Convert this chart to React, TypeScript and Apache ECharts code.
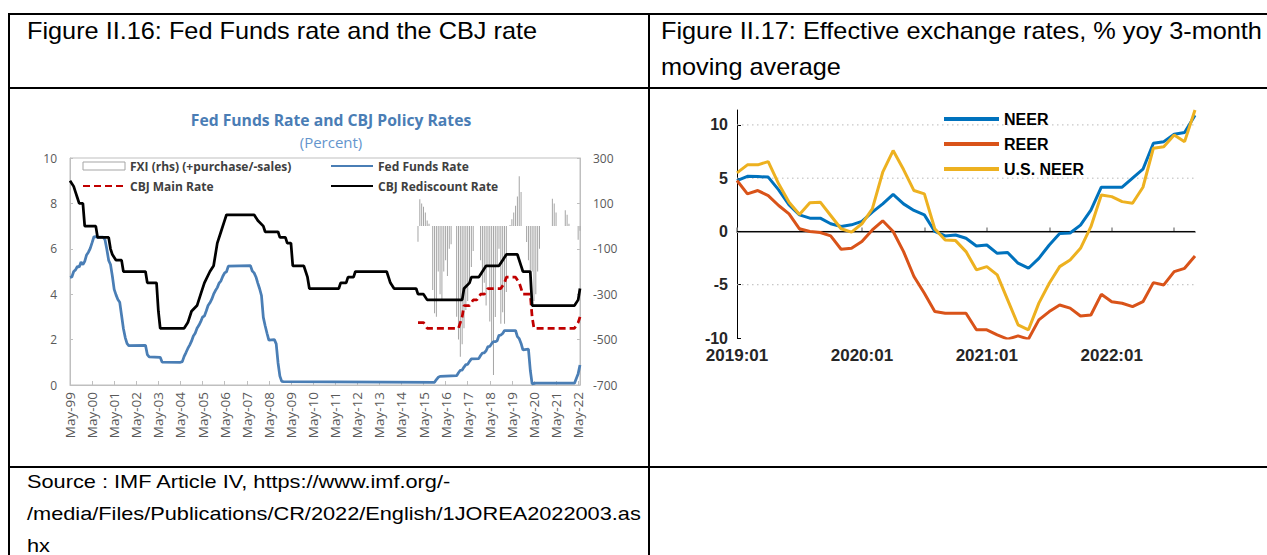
import React, { useEffect, useRef } from "react";
import * as echarts from "echarts";

// ---------------- Table texts ----------------
const headerLeft = "Figure II.16: Fed Funds rate and the CBJ rate";
const headerRight1 = "Figure II.17: Effective exchange rates, % yoy 3-month";
const headerRight2 = "moving average";
const sourceLines = [
  "Source : IMF Article IV, https://www.imf.org/-",
  "/media/Files/Publications/CR/2022/English/1JOREA2022003.as",
  "hx",
];

// ---------------- Figure II.16 (x = months since May-1999) ----------------
const fig16Title = "Fed Funds Rate and CBJ Policy Rates";
const fig16Subtitle = "(Percent)";
const fig16XTickLabels = [
  "May-99", "May-00", "May-01", "May-02", "May-03", "May-04", "May-05", "May-06",
  "May-07", "May-08", "May-09", "May-10", "May-11", "May-12", "May-13", "May-14",
  "May-15", "May-16", "May-17", "May-18", "May-19", "May-20", "May-21", "May-22",
];
const fig16RateTicks = [0, 2, 4, 6, 8, 10];
const fig16FxiTicks = [-700, -500, -300, -100, 100, 300];

const fedFundsRate = [
  [0, 4.74], [1, 4.76], [2, 5.0], [3, 5.07], [4, 5.22], [5, 5.2], [6, 5.42], [7, 5.3],
  [8, 5.45], [9, 5.73], [10, 5.85], [11, 6.02], [12, 6.27], [13, 6.53], [14, 6.54], [15, 6.5],
  [16, 6.52], [17, 6.51], [18, 6.51], [19, 6.4], [20, 5.98], [21, 5.49], [22, 5.31], [23, 4.8],
  [24, 4.21], [25, 3.97], [26, 3.77], [27, 3.65], [28, 3.07], [29, 2.49], [30, 2.09], [31, 1.82],
  [32, 1.73], [41, 1.75], [42, 1.34], [43, 1.24], [49, 1.22], [50, 1.01], [60, 1.0], [61, 1.03],
  [62, 1.26], [63, 1.43], [64, 1.61], [65, 1.76], [66, 1.93], [67, 2.16], [68, 2.28], [69, 2.5],
  [70, 2.63], [71, 2.79], [72, 3.0], [73, 3.04], [74, 3.26], [75, 3.5], [76, 3.62], [77, 3.78],
  [78, 4.0], [79, 4.16], [80, 4.29], [81, 4.49], [82, 4.59], [83, 4.79], [84, 4.94], [85, 4.99],
  [86, 5.24], [98, 5.26], [99, 5.02], [100, 4.94], [101, 4.76], [102, 4.49], [103, 4.24],
  [104, 3.94], [105, 2.98], [106, 2.61], [107, 2.28], [108, 1.98], [111, 2.0], [112, 1.81],
  [113, 0.97], [114, 0.39], [115, 0.16], [116, 0.15], [198, 0.12], [199, 0.24], [200, 0.34],
  [201, 0.38], [210, 0.41], [211, 0.54], [212, 0.65], [213, 0.66], [214, 0.79], [215, 0.9],
  [216, 0.91], [217, 1.04], [218, 1.15], [222, 1.16], [223, 1.3], [224, 1.41], [225, 1.42],
  [226, 1.51], [227, 1.69], [228, 1.7], [229, 1.82], [230, 1.91], [231, 1.91], [232, 1.95],
  [233, 2.19], [234, 2.2], [235, 2.27], [236, 2.4], [242, 2.4], [243, 2.13], [244, 2.04],
  [245, 1.83], [246, 1.55], [249, 1.58], [250, 0.65], [251, 0.05], [253, 0.08], [274, 0.08],
  [276, 0.5], [277, 0.88],
];

const cbjRediscountRate = [
  [0, 9.0], [2, 8.75], [3, 8.5], [4, 8.25], [5, 8.0], [7, 8.0], [8, 7.0], [14, 7.0],
  [15, 6.5], [21, 6.5], [22, 6.0], [23, 5.75], [25, 5.5], [28, 5.5], [29, 5.0], [41, 5.0],
  [42, 4.5], [47, 4.5], [48, 3.25], [49, 2.5], [62, 2.5], [64, 2.75], [66, 3.25], [69, 3.5],
  [71, 4.0], [73, 4.5], [76, 5.0], [78, 5.25], [80, 6.25], [82, 6.75], [84, 7.25], [85, 7.5],
  [100, 7.5], [102, 7.25], [105, 7.0], [106, 6.75], [113, 6.75], [114, 6.5], [117, 6.5],
  [118, 6.25], [120, 6.25], [121, 5.25], [127, 5.25], [128, 5.0], [129, 4.75], [130, 4.25],
  [146, 4.25], [147, 4.5], [150, 4.5], [151, 4.75], [154, 4.75], [155, 5.0], [172, 5.0],
  [173, 4.75], [174, 4.5], [176, 4.25], [188, 4.25], [189, 4.0], [192, 4.0], [194, 3.75],
  [213, 3.75], [214, 4.25], [217, 4.5], [218, 4.75], [222, 4.75], [224, 5.0], [226, 5.25],
  [233, 5.25], [235, 5.5], [237, 5.75], [243, 5.75], [245, 5.25], [246, 5.0], [250, 5.0],
  [251, 3.5], [274, 3.5], [276, 3.75], [277, 4.25],
];

const cbjMainRate = [
  [189, 2.75], [192, 2.75], [194, 2.5], [211, 2.5], [213, 3.0], [214, 3.5], [217, 3.5],
  [219, 3.75], [221, 3.75], [223, 4.0], [225, 4.0], [227, 4.25], [234, 4.25], [236, 4.5],
  [237, 4.75], [242, 4.75], [244, 4.5], [246, 4.0], [250, 4.0], [251, 3.0], [252, 2.5],
  [274, 2.5], [276, 2.75], [277, 3.0],
];

const fxi = [
  [189, -69], [190, 118], [191, 100], [192, 85], [193, 60], [194, 25], [195, 10],
  [197, -281], [198, -384], [199, -399], [200, -200], [201, -300], [202, -330], [203, -200],
  [204, -150], [205, -220], [206, -100], [207, -80], [210, -399], [211, -500], [212, -575],
  [213, -520], [214, -450], [215, -370], [216, -330], [217, -250], [218, -180], [219, -110],
  [223, -150], [224, -300], [225, -250], [226, -350], [227, -180], [228, -420], [229, -520],
  [230, -656], [231, -400], [232, -180], [233, -100], [234, -430], [235, -380], [236, -430],
  [237, -290], [239, 5], [240, 30], [241, 60], [242, 90], [243, 130], [244, 220], [245, 150],
  [248, -70], [249, -150], [250, -280], [251, -200], [252, -330], [253, -300], [254, -200],
  [255, -100], [262, 120], [263, 100], [264, 60], [269, 70], [270, 50], [271, 10],
  [276, -60], [277, -20],
];

// ---------------- Figure II.17 (x = months since 2019:01) ----------------
const fig17XTickLabels = ["2019:01", "2020:01", "2021:01", "2022:01"];
const fig17YTicks = [-10, -5, 0, 5, 10];
const fig17GridLevels = [10, 5, -5];
const neer = [
  4.78, 5.18, 5.15, 5.1, 3.9, 2.5, 1.56, 1.25, 1.25, 0.72, 0.47, 0.62, 0.94, 1.81, 2.59,
  3.47, 2.59, 1.97, 1.56, 0.0, -0.42, -0.33, -0.64, -1.36, -1.27, -2.05, -1.98, -2.98, -3.45,
  -2.52, -1.27, -0.2, -0.15, 0.6, 2.0, 4.15, 4.15, 4.15, 5.0, 5.84, 8.28, 8.43, 9.13, 9.28, 10.9,
];
const reer = [
  4.78, 3.53, 3.84, 3.37, 2.44, 1.65, 0.25, 0.0, -0.1, -0.42, -1.67, -1.58, -0.95, 0.14, 1.0,
  0.0, -1.89, -4.23, -5.8, -7.52, -7.67, -7.67, -7.67, -9.23, -9.23, -9.7, -10.1, -9.8, -10.1,
  -8.3, -7.52, -6.9, -7.2, -7.93, -7.84, -5.9, -6.59, -6.74, -7.06, -6.59, -4.8, -5.02, -3.77,
  -3.46, -2.3,
];
const usNeer = [
  5.5, 6.25, 6.25, 6.56, 4.47, 2.75, 1.59, 2.69, 2.75, 1.5, 0.25, -0.06, 0.72, 2.12, 5.56,
  7.59, 5.81, 3.84, 3.53, 0.25, -0.8, -0.86, -1.89, -3.6, -3.3, -4.08, -6.42, -8.76, -9.23,
  -6.73, -4.86, -3.3, -2.68, -1.58, 0.45, 3.43, 3.27, 2.8, 2.65, 4.15, 7.81, 7.96, 9.06, 8.43, 11.4,
];

const FIG16_FONT = "Open Sans";
const FIG17_FONT = "Liberation Sans";
const DOC_FONT = "Liberation Sans";

function App() {
  const ref = useRef<HTMLDivElement>(null);

  useEffect(() => {
    if (!ref.current) return;
    const chart = echarts.init(ref.current, undefined, { renderer: "svg" });

    const fig16TickMonths = fig16XTickLabels.map((_, i) => i * 12);
    const fig17LabelMonths = fig17XTickLabels.map((_, i) => i * 12);
    const fig17TickMonths = [0, 6, 12, 18, 24, 30, 36, 42];
    const fig17Last = neer.length - 1;
    const toPairs = (arr: number[]) => arr.map((v, i) => [i, v]);
    const lineLegend = (name: string) => ({ name, itemStyle: { opacity: 0 } });

    const line = (x1: number, y1: number, x2: number, y2: number) => ({
      type: "line",
      silent: true,
      shape: { x1, y1, x2, y2 },
      style: { stroke: "#000", lineWidth: 2 },
    });
    const docText = (text: string, x: number, y: number, size: number, sx: number) => ({
      type: "text",
      silent: true,
      x,
      y,
      scaleX: sx,
      style: {
        text,
        fontSize: size,
        fontFamily: DOC_FONT,
        fill: "#000",
        verticalAlign: "middle",
        textVerticalAlign: "middle",
      },
    });

    const graphics: any[] = [
      line(9, 14, 1267, 14),
      line(9, 13, 9, 555),
      line(649, 13, 649, 555),
      line(9, 88, 1267, 88),
      line(9, 467, 1267, 467),
      docText(headerLeft, 27, 30.5, 23, 1.1),
      docText(headerRight1, 661, 30.5, 23, 1.1),
      docText(headerRight2, 661, 66.5, 23, 1.1),
      ...sourceLines.map((t, i) => docText(t, 27, 481.5 + i * 32, 19, 1.145)),
      {
        type: "text",
        silent: true,
        x: 331,
        y: 119.5,
        style: {
          text: fig16Title,
          fontSize: 15.7,
          fontWeight: "bold",
          fontFamily: FIG16_FONT,
          fill: "#4a7db5",
          align: "center",
          textAlign: "center",
          verticalAlign: "middle",
          textVerticalAlign: "middle",
        },
      },
      {
        type: "text",
        silent: true,
        x: 331,
        y: 141.5,
        style: {
          text: fig16Subtitle,
          fontSize: 15,
          fontFamily: FIG16_FONT,
          fill: "#6495cd",
          align: "center",
          textAlign: "center",
          verticalAlign: "middle",
          textVerticalAlign: "middle",
        },
      },
    ];

    const fig16LegendText = {
      fontFamily: FIG16_FONT,
      fontWeight: "bold",
      fontSize: 12,
      color: "#404040",
      lineHeight: 12,
    };

    const option: any = {
      animation: false,
      backgroundColor: "#ffffff",
      graphic: { elements: graphics },
      legend: [
        {
          left: 82,
          top: 160,
          orient: "vertical",
          padding: 0,
          itemWidth: 42,
          itemHeight: 8,
          itemGap: 8,
          selectedMode: false,
          textStyle: fig16LegendText,
          data: [
            {
              name: "FXI (rhs) (+purchase/-sales)",
              icon: "rect",
              itemStyle: { color: "#ffffff", borderColor: "#a5a5a5", borderWidth: 1, opacity: 1 },
            },
            lineLegend("CBJ Main Rate"),
          ],
        },
        {
          left: 330,
          top: 160,
          orient: "vertical",
          padding: 0,
          itemWidth: 42,
          itemHeight: 8,
          itemGap: 8,
          selectedMode: false,
          textStyle: fig16LegendText,
          data: [lineLegend("Fed Funds Rate"), lineLegend("CBJ Rediscount Rate")],
        },
        {
          left: 942,
          top: 111,
          orient: "vertical",
          padding: 0,
          itemWidth: 55,
          itemHeight: 14,
          itemGap: 9,
          selectedMode: false,
          lineStyle: { width: 4 },
          textStyle: {
            fontFamily: FIG17_FONT,
            fontWeight: "bold",
            fontSize: 16,
            color: "#000",
            lineHeight: 14,
          },
          data: [lineLegend("NEER"), lineLegend("REER"), lineLegend("U.S. NEER")],
        },
      ],
      grid: [
        {
          left: 70,
          top: 158,
          width: 510,
          height: 227,
          show: true,
          borderColor: "#bfbfbf",
          borderWidth: 1,
          backgroundColor: "transparent",
          outerBoundsMode: "none",
        },
        { left: 737, top: 110, width: 458, height: 228, outerBoundsMode: "none" },
      ],
      xAxis: [
        {
          type: "value",
          gridIndex: 0,
          min: 0,
          max: 277,
          interval: 12,
          axisLine: { show: true, lineStyle: { color: "#bfbfbf", width: 1 } },
          axisTick: {
            show: true,
            inside: true,
            length: 4,
            customValues: fig16TickMonths,
            lineStyle: { color: "#bfbfbf" },
          },
          axisLabel: {
            customValues: fig16TickMonths,
            rotate: 90,
            margin: 7,
            fontSize: 13.5,
            fontFamily: FIG16_FONT,
            color: "#595959",
            formatter: (v: number) =>
              v % 12 === 0 ? fig16XTickLabels[Math.round(v / 12)] ?? "" : "",
          },
          splitLine: { show: false },
        },
        {
          type: "value",
          gridIndex: 1,
          min: 0,
          max: fig17Last,
          interval: 6,
          axisLine: { show: true, lineStyle: { color: "#8c8c8c", width: 2 } },
          axisTick: {
            show: true,
            inside: true,
            length: 4,
            customValues: fig17TickMonths,
            lineStyle: { color: "#8c8c8c", width: 1.5 },
          },
          axisLabel: {
            customValues: fig17LabelMonths,
            margin: 9,
            fontSize: 17,
            fontWeight: "bold",
            fontFamily: FIG17_FONT,
            color: "#262626",
            formatter: (v: number) =>
              v % 12 === 0 ? fig17XTickLabels[Math.round(v / 12)] ?? "" : "",
          },
          splitLine: { show: false },
        },
      ],
      yAxis: [
        {
          type: "value",
          gridIndex: 0,
          position: "left",
          min: 0,
          max: 10,
          interval: 2,
          axisLine: { show: true, lineStyle: { color: "#bfbfbf" } },
          axisTick: {
            show: true,
            inside: true,
            length: 3,
            customValues: fig16RateTicks,
            lineStyle: { color: "#bfbfbf" },
          },
          axisLabel: {
            customValues: fig16RateTicks,
            margin: 13,
            fontSize: 12,
            fontFamily: FIG16_FONT,
            color: "#595959",
          },
          splitLine: { show: false },
        },
        {
          type: "value",
          gridIndex: 0,
          position: "right",
          min: -700,
          max: 300,
          axisLine: { show: true, lineStyle: { color: "#bfbfbf" } },
          axisTick: {
            show: true,
            inside: true,
            length: 3,
            customValues: fig16FxiTicks,
            lineStyle: { color: "#bfbfbf" },
          },
          axisLabel: {
            customValues: fig16FxiTicks,
            margin: 13,
            fontSize: 12,
            fontFamily: FIG16_FONT,
            color: "#595959",
          },
          splitLine: { show: false },
        },
        {
          type: "value",
          gridIndex: 1,
          min: -10,
          max: 11.4,
          axisLine: { show: true, lineStyle: { color: "#000", width: 1 } },
          axisTick: {
            show: true,
            inside: true,
            length: 4,
            customValues: fig17YTicks,
            lineStyle: { color: "#000" },
          },
          axisLabel: {
            customValues: fig17YTicks,
            margin: 9,
            fontSize: 16,
            fontWeight: "bold",
            fontFamily: FIG17_FONT,
            color: "#262626",
          },
          splitLine: { show: false },
        },
      ],
      series: [
        {
          name: "FXI (rhs) (+purchase/-sales)",
          type: "bar",
          xAxisIndex: 0,
          yAxisIndex: 1,
          data: fxi,
          barWidth: 1,
          itemStyle: { color: "#a5a5a5" },
        },
        {
          name: "Fed Funds Rate",
          type: "line",
          xAxisIndex: 0,
          yAxisIndex: 0,
          data: fedFundsRate,
          symbol: "none",
          color: "#4a7eb5",
          lineStyle: { color: "#4a7eb5", width: 2.75 },
        },
        {
          name: "CBJ Main Rate",
          type: "line",
          xAxisIndex: 0,
          yAxisIndex: 0,
          data: cbjMainRate,
          symbol: "none",
          color: "#c00000",
          lineStyle: { color: "#c00000", width: 2.75, type: [7, 4] },
        },
        {
          name: "CBJ Rediscount Rate",
          type: "line",
          xAxisIndex: 0,
          yAxisIndex: 0,
          data: cbjRediscountRate,
          symbol: "none",
          color: "#000000",
          lineStyle: { color: "#000000", width: 2.75 },
        },
        ...fig17GridLevels.map((lvl) => ({
          name: "grid" + lvl,
          type: "line",
          xAxisIndex: 1,
          yAxisIndex: 2,
          data: [
            [0, lvl],
            [fig17Last, lvl],
          ],
          symbol: "none",
          silent: true,
          z: 1,
          lineStyle: { color: "#b8b8b8", width: 1, type: [1.5, 3.5] },
        })),
        {
          name: "zero",
          type: "line",
          xAxisIndex: 1,
          yAxisIndex: 2,
          data: [
            [0, 0],
            [fig17Last, 0],
          ],
          symbol: "none",
          silent: true,
          z: 1,
          lineStyle: { color: "#000", width: 1 },
        },
        {
          name: "NEER",
          type: "line",
          xAxisIndex: 1,
          yAxisIndex: 2,
          data: toPairs(neer),
          symbol: "none",
          color: "#0072BD",
          lineStyle: { color: "#0072BD", width: 3 },
          z: 3,
        },
        {
          name: "REER",
          type: "line",
          xAxisIndex: 1,
          yAxisIndex: 2,
          data: toPairs(reer),
          symbol: "none",
          color: "#D95319",
          lineStyle: { color: "#D95319", width: 3 },
          z: 3,
        },
        {
          name: "U.S. NEER",
          type: "line",
          xAxisIndex: 1,
          yAxisIndex: 2,
          data: toPairs(usNeer),
          symbol: "none",
          color: "#EDB120",
          lineStyle: { color: "#EDB120", width: 3 },
          z: 3,
        },
      ],
    };

    chart.setOption(option);
    return () => chart.dispose();
  }, []);

  return (
    <div
      ref={ref}
      style={{
        position: "fixed",
        left: 0,
        top: 0,
        width: 1267,
        height: 555,
        background: "#ffffff",
      }}
    />
  );
}

export default App;
